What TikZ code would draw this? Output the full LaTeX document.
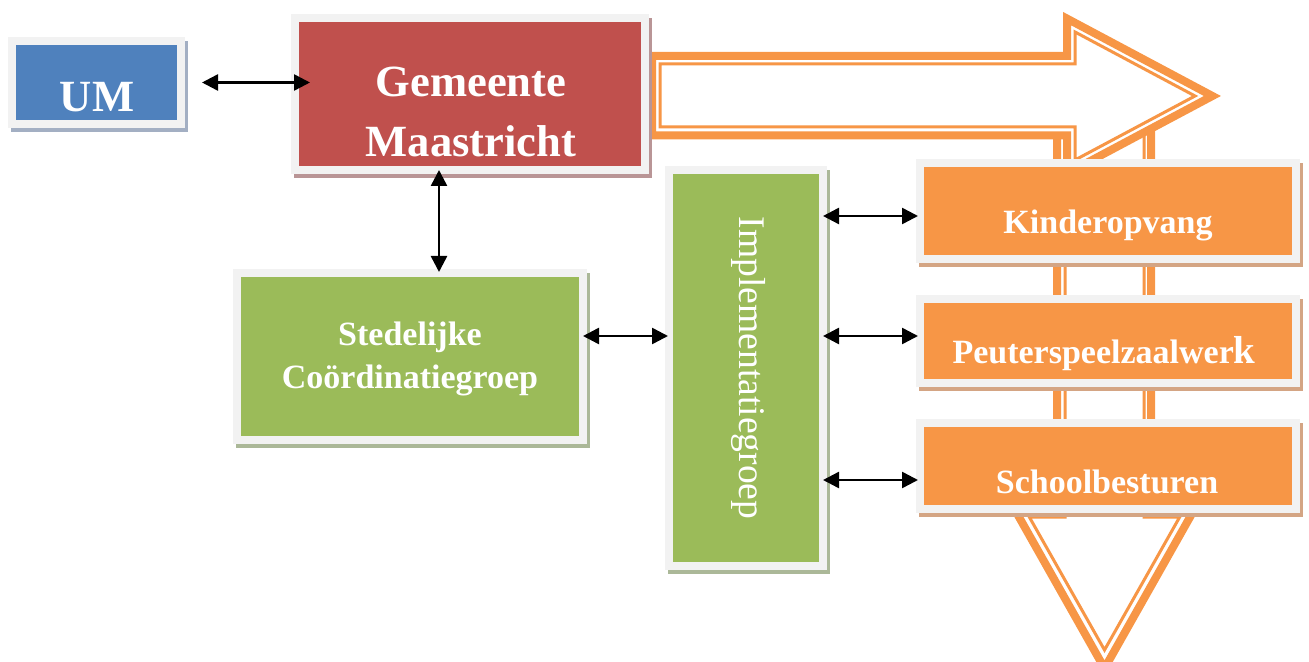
\documentclass[tikz,border=0pt]{standalone}
\usepackage{fontspec}
\setmainfont{Liberation Serif}
\usepackage{tikz}
\usetikzlibrary{arrows.meta,shadows}
\definecolor{umblue}{HTML}{4F81BD}
\definecolor{gmred}{HTML}{C0504D}
\definecolor{grgreen}{HTML}{9BBB59}
\definecolor{partorange}{HTML}{F79646}
\definecolor{framegray}{HTML}{F2F2F2}
\definecolor{umshadow}{HTML}{A3AFC3}
\definecolor{gmshadow}{HTML}{B99596}
\definecolor{grshadow}{HTML}{ABB898}
\definecolor{partshadow}{HTML}{D4A584}
\tikzset{}

\begin{document}
\begin{tikzpicture}[x=0.5pt,y=-0.5pt]
            \tikzset{
                org box/.style 2 args={rectangle,fill=#1,draw=framegray,line width=4pt,inner sep=0pt,
                    drop shadow={shadow xshift=1.5pt,shadow yshift=-2pt,fill=#2,draw=#2,line width=4pt,opacity=1}},
                org text/.style={text=white,font=\bfseries\fontsize{17pt}{20pt}\selectfont,anchor=base},
                big text/.style={text=white,font=\bfseries\fontsize{22.3pt}{26pt}\selectfont,anchor=base},
                link/.style={arrows={Triangle[length=8pt,width=8pt]-Triangle[length=8pt,width=8pt]},line width=1.25pt},
                flow thick/.style={draw=partorange,line width=4pt,line join=miter,fill=white},
                flow thin/.style={draw=partorange,line width=1.5pt,line join=miter}
            }
            \useasboundingbox (0,0) rectangle (1309,662);
            % big arrows behind the boxes
            \path[flow thick] (1057,100) -- (1057,510) -- (1015,510) -- (1104.5,668.4)
                -- (1194,510) -- (1151,510) -- (1151,100) -- cycle;
            \path[flow thin] (1065,100) -- (1065,517) -- (1029.3,517) -- (1104.5,650)
                -- (1179.7,517) -- (1144,517) -- (1144,100);
            \path[flow thick] (652,56) -- (1067,56) -- (1067,18.6) -- (1212.4,96)
                -- (1067,173.4) -- (1067,135.5) -- (652,135.5) -- cycle;
            \path[flow thin] (660,64) -- (1075,64) -- (1075,32) -- (1195,96)
                -- (1075,160) -- (1075,127) -- (660,127) -- cycle;
            % boxes
            \node[org box={umblue}{umshadow},minimum width=84.5pt,minimum height=41.5pt] (um) at (96.5,82.5) {};
            \node[org box={gmred}{gmshadow},minimum width=175pt,minimum height=76pt] (gem) at (470,94) {};
            \node[org box={grgreen}{grshadow},minimum width=173pt,minimum height=83.5pt] (sted) at (410,356.5) {};
            \node[org box={grgreen}{grshadow},minimum width=77pt,minimum height=198pt] (impl) at (746,368) {};
            \node[org box={partorange}{partshadow},minimum width=188pt,minimum height=48pt] (kin) at (1108,211) {};
            \node[org box={partorange}{partshadow},minimum width=188pt,minimum height=42pt] (peut) at (1108,341) {};
            \node[org box={partorange}{partshadow},minimum width=188pt,minimum height=43pt] (school) at (1108,466) {};
            % texts
            \node[big text] (um-t) at (97,112) {UM};
            \node[big text] (gem-t1) at (471,97) {Gemeente};
            \node[big text] (gem-t2) at (471,157) {Maastricht};
            \node[org text] (sted-t1) at (410,345) {Stedelijke};
            \node[org text] (sted-t2) at (410,388) {Coördinatiegroep};
            \node[text=white,rotate=-90,font=\fontsize{18.8pt}{22pt}\selectfont] (impl-t) at (748,368) {Implementatiegroep};
            \node[org text] (kin-t) at (1108,234) {Kinderopvang};
            \node[org text] (peut-t) at (1104,363) {Peuterspeelzaalwer{\fontsize{19.5pt}{20pt}\selectfont k}};
            \node[org text] (school-t) at (1107,493) {Schoolbesturen};
            % connectors
            \coordinate (gem-s) at ([xshift=-15.5pt]gem.south);
            \coordinate (sted-e) at ([yshift=10.25pt]sted.east);
            \coordinate (kin-w) at ([yshift=-2.5pt]kin.west);
            \coordinate (peut-w) at ([yshift=2.5pt]peut.west);
            \coordinate (school-w) at ([yshift=-7pt]school.west);
            \draw[link,shorten <=8.5pt,shorten >=-9.5pt] (um.east) -- (gem.west |- um.east);
            \draw[link,shorten <=-2pt,shorten >=-1.5pt] (gem-s) -- (gem-s |- sted.north);
            \draw[link,shorten <=-2pt,shorten >=-1.5pt] (sted-e) -- (sted-e -| impl.west);
            \draw[link,shorten <=-2pt,shorten >=-1pt] (impl.east |- kin-w) -- (kin-w);
            \draw[link,shorten <=-2pt,shorten >=-1pt] (impl.east |- peut-w) -- (peut-w);
            \draw[link,shorten <=-2pt,shorten >=-1pt] (impl.east |- school-w) -- (school-w);
        \end{tikzpicture}
\end{document}
